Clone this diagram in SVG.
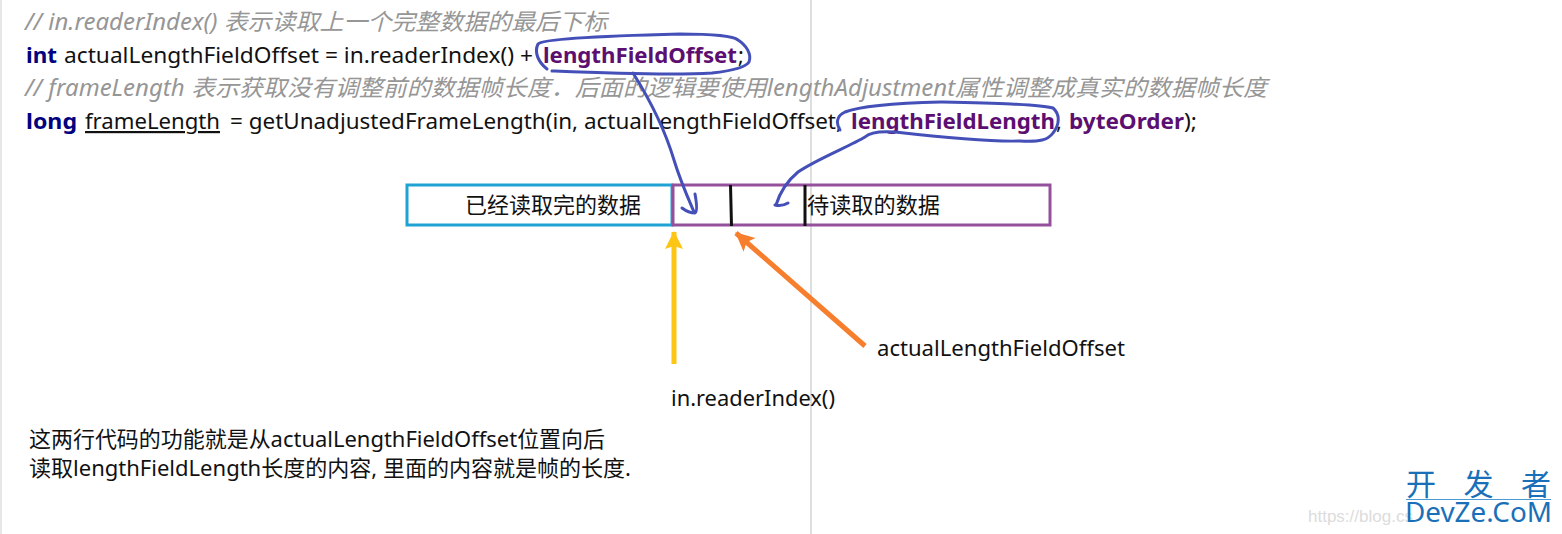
<svg xmlns="http://www.w3.org/2000/svg" width="1562" height="534" viewBox="0 0 1562 534">
<style>
text{font-family:"Noto Sans","Noto Sans CJK SC",sans-serif;font-size:22px;fill:#111}
.c{fill:#969696;font-style:italic;font-size:23px}
.k{fill:#000080;font-weight:700}
.f{fill:#5c0f70;font-weight:700}
.ink{fill:none;stroke:#4450b8;stroke-width:3;stroke-linecap:round;stroke-linejoin:round}
</style>
<defs>
<marker id="y" markerUnits="userSpaceOnUse" markerWidth="20" markerHeight="20" refX="17" refY="9" orient="auto"><path d="M0 0L18 9L0 18L3 9Z" fill="#fdc514"/></marker>
<marker id="o" markerUnits="userSpaceOnUse" markerWidth="22" markerHeight="20" refX="18" refY="9" orient="auto"><path d="M0 0L19 9L0 18L4 9Z" fill="#f67e2c"/></marker>
</defs>
<rect width="1562" height="534" fill="#fff"/>
<rect x="0" y="0" width="2" height="534" fill="#e6e6e6"/>
<rect x="810" y="0" width="2" height="534" fill="#dedede"/>
<g id="code">
<text class="c" x="25" y="30" textLength="582" lengthAdjust="spacingAndGlyphs">// in.readerIndex() 表示读取上一个完整数据的最后下标</text>
<text class="k" x="26" y="63" textLength="31" lengthAdjust="spacingAndGlyphs">int</text>
<text x="64" y="63" textLength="469" lengthAdjust="spacingAndGlyphs">actualLengthFieldOffset = in.readerIndex() +</text>
<text class="f" x="543" y="63" textLength="194" lengthAdjust="spacingAndGlyphs">lengthFieldOffset</text>
<text x="738" y="63">;</text>
<text class="c" x="25" y="96" textLength="1242" lengthAdjust="spacingAndGlyphs">// frameLength 表示获取没有调整前的数据帧长度．后面的逻辑要使用lengthAdjustment属性调整成真实的数据帧长度</text>
<text class="k" x="26" y="129" textLength="51" lengthAdjust="spacingAndGlyphs">long</text>
<text x="85" y="129" textLength="135" lengthAdjust="spacingAndGlyphs" text-decoration="underline">frameLength</text>
<text x="230" y="129" textLength="612" lengthAdjust="spacingAndGlyphs">= getUnadjustedFrameLength(in, actualLengthFieldOffset,</text>
<text class="f" x="851" y="129" textLength="204" lengthAdjust="spacingAndGlyphs">lengthFieldLength</text>
<text x="1056" y="129">,</text>
<text class="f" x="1069" y="129" textLength="115" lengthAdjust="spacingAndGlyphs">byteOrder</text>
<text x="1184" y="129" textLength="13" lengthAdjust="spacingAndGlyphs">);</text>
</g>
<g id="node-read">
<rect x="407" y="185" width="265" height="40" fill="none" stroke="#1fa3d4" stroke-width="3"/>
<text x="465" y="213" textLength="176" lengthAdjust="spacingAndGlyphs">已经读取完的数据</text>
</g>
<g id="node-unread">
<rect x="673" y="185" width="377" height="40" fill="none" stroke="#95509b" stroke-width="3"/>
<path d="M730.5 185L731.500 226M805 185V226" stroke="#111" stroke-width="3" fill="none"/>
<text x="807" y="213" textLength="133" lengthAdjust="spacingAndGlyphs">待读取的数据</text>
</g>
<g id="connectors">
<path class="ink" d="M547 69C538 62 534 52 538 44C542 39 600 36 680 34C710 34 732 35 738 40C746 45 752 54 749 62C745 68 730 71 712 73C670 76 600 73 552 71"/>
<path class="ink" d="M633 73C650 100 665 130 674 160C680 180 688 198 694 212M695 194C697 205 697 212 695 213C691 213 686 211 682 208"/>
<path class="ink" d="M840 130C836 124 836 116 845 112C860 106 900 103 941 102C990 103 1040 104 1053 108C1060 114 1060 124 1053 133C1048 140 1040 142 1020 141C990 142 930 136 895 132C880 131 870 132 865 137C850 146 815 160 798 172C786 182 780 192 776 205M775 205C779 206 783 206 788 203"/>
<path d="M674 364V232" stroke="#fdc514" stroke-width="5" fill="none" marker-end="url(#y)"/>
<path d="M865 346L736 233" stroke="#f67e2c" stroke-width="5" fill="none" marker-end="url(#o)"/>
</g>
<g id="label-offset"><text x="877" y="356" textLength="248" lengthAdjust="spacingAndGlyphs">actualLengthFieldOffset</text></g>
<g id="label-reader"><text x="671" y="406" textLength="164" lengthAdjust="spacingAndGlyphs">in.readerIndex()</text></g>
<g id="note">
<text x="29" y="447" textLength="576" lengthAdjust="spacingAndGlyphs">这两行代码的功能就是从actualLengthFieldOffset位置向后</text>
<text x="29" y="476" textLength="602" lengthAdjust="spacingAndGlyphs">读取lengthFieldLength长度的内容, 里面的内容就是帧的长度.</text>
</g>
<g id="watermark">
<text x="1308" y="522" style="font-family:'Liberation Sans',sans-serif;font-size:17px;fill:#dcdcdc">https://blog.cs</text>
<text x="1406" y="495" style="font-size:30px;fill:#1a70b8" textLength="145" lengthAdjust="spacing">开 发 者</text>
<rect x="1406" y="499" width="145" height="1" fill="#4a9bd4"/>
<text x="1405" y="522" style="font-size:27px;fill:#1a70b8" textLength="147" lengthAdjust="spacingAndGlyphs">DevZe.CoM</text>
</g>
</svg>
